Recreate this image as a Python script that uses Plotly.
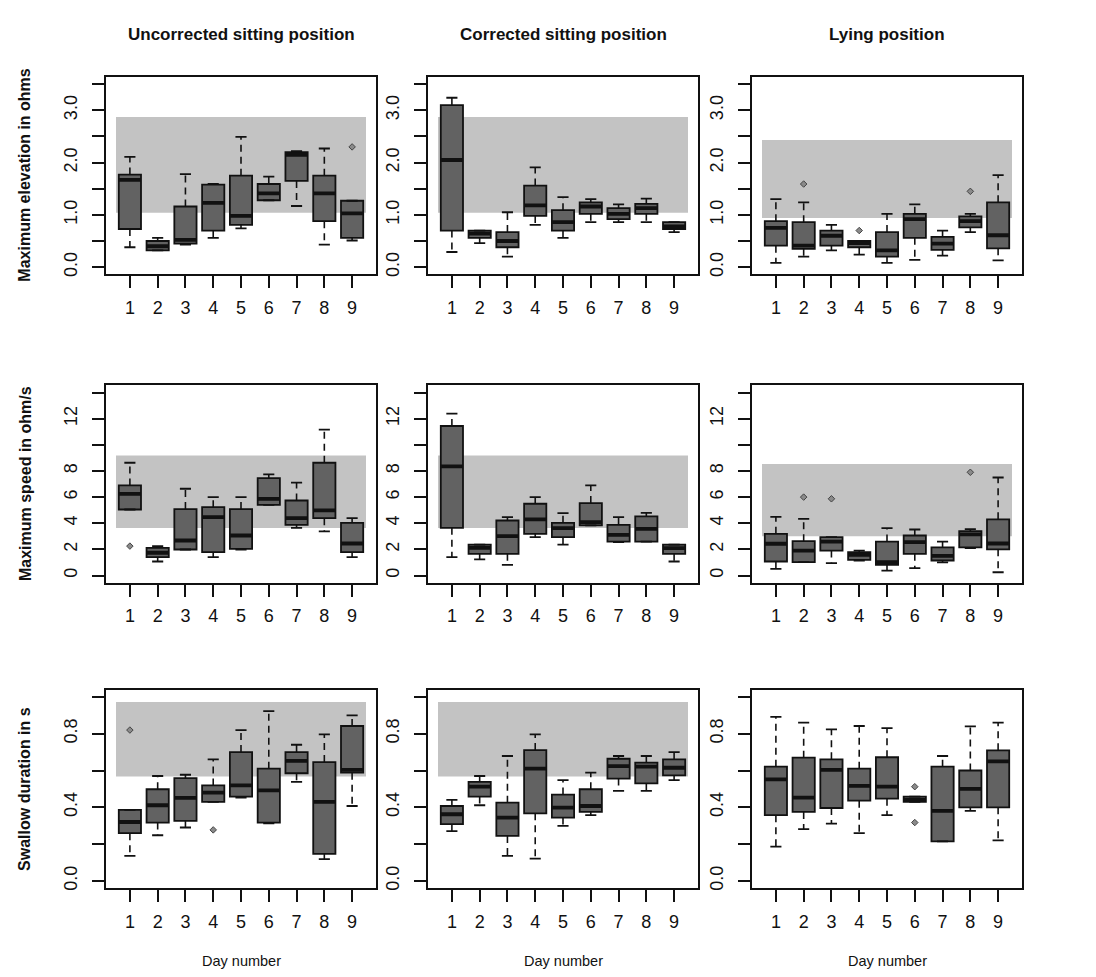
import plotly.graph_objects as go

W, H = 1096, 977
days = [1, 2, 3, 4, 5, 6, 7, 8, 9]
day_labels = ["1", "2", "3", "4", "5", "6", "7", "8", "9"]

col_titles = ["Uncorrected sitting position", "Corrected sitting position", "Lying position"]
row_titles = ["Maximum elevation in ohms", "Maximum speed in ohm/s", "Swallow duration in s"]
x_title = "Day number"

# ---- Row 1: maximum elevation (ohms) ----
elev_unc_q1 = [0.73, 0.32, 0.45, 0.70, 0.81, 1.28, 1.65, 0.88, 0.56]
elev_unc_med = [1.67, 0.40, 0.52, 1.23, 0.98, 1.41, 2.15, 1.41, 1.03]
elev_unc_q3 = [1.77, 0.50, 1.16, 1.58, 1.75, 1.59, 2.20, 1.75, 1.27]
elev_unc_lo = [0.38, 0.32, 0.43, 0.56, 0.74, 1.28, 1.17, 0.43, 0.51]
elev_unc_hi = [2.11, 0.56, 1.78, 1.59, 2.49, 1.73, 2.22, 2.27, 1.27]
elev_unc_out_x = [9]
elev_unc_out_y = [2.30]
elev_unc_band = [1.04, 2.87]

elev_cor_q1 = [0.70, 0.56, 0.38, 0.98, 0.70, 1.02, 0.92, 1.02, 0.73]
elev_cor_med = [2.05, 0.64, 0.50, 1.18, 0.86, 1.16, 1.02, 1.13, 0.78]
elev_cor_q3 = [3.10, 0.70, 0.67, 1.56, 1.09, 1.24, 1.13, 1.21, 0.86]
elev_cor_lo = [0.29, 0.46, 0.20, 0.81, 0.56, 0.86, 0.86, 0.86, 0.67]
elev_cor_hi = [3.24, 0.70, 1.05, 1.91, 1.34, 1.30, 1.20, 1.31, 0.86]
elev_cor_out_x = []
elev_cor_out_y = []
elev_cor_band = [1.04, 2.87]

elev_lie_q1 = [0.41, 0.35, 0.41, 0.38, 0.20, 0.56, 0.33, 0.76, 0.36]
elev_lie_med = [0.75, 0.41, 0.60, 0.46, 0.32, 0.92, 0.45, 0.88, 0.61]
elev_lie_q3 = [0.88, 0.86, 0.70, 0.50, 0.67, 1.02, 0.58, 0.97, 1.24]
elev_lie_lo = [0.08, 0.20, 0.32, 0.24, 0.08, 0.14, 0.22, 0.67, 0.13]
elev_lie_hi = [1.30, 1.24, 0.81, 0.50, 1.02, 1.20, 0.70, 1.02, 1.76]
elev_lie_out_x = [2, 4, 8]
elev_lie_out_y = [1.59, 0.70, 1.45]
elev_lie_band = [0.94, 2.43]

# ---- Row 2: maximum speed (ohm/s) ----
speed_unc_q1 = [5.05, 1.40, 1.99, 1.79, 2.04, 5.41, 3.88, 4.39, 1.79]
speed_unc_med = [6.25, 1.74, 2.68, 4.47, 3.06, 5.87, 4.39, 4.98, 2.45]
speed_unc_q3 = [6.89, 2.12, 5.08, 5.23, 5.08, 7.45, 5.74, 8.63, 4.03]
speed_unc_lo = [5.05, 1.07, 1.99, 1.40, 1.99, 5.41, 3.65, 3.37, 1.40]
speed_unc_hi = [8.63, 2.25, 6.64, 6.00, 6.00, 7.74, 7.10, 11.16, 4.39]
speed_unc_out_x = [1]
speed_unc_out_y = [2.25]
speed_unc_band = [3.63, 9.19]

speed_cor_q1 = [3.65, 1.66, 1.66, 3.19, 2.94, 3.83, 2.60, 2.60, 1.66]
speed_cor_med = [8.35, 2.12, 3.01, 4.29, 3.63, 4.08, 3.11, 3.57, 2.09]
speed_cor_q3 = [11.44, 2.37, 4.21, 5.49, 4.03, 5.54, 3.88, 4.52, 2.37]
speed_cor_lo = [1.40, 1.23, 0.82, 2.94, 2.37, 3.83, 2.55, 2.60, 1.07]
speed_cor_hi = [12.38, 2.37, 4.47, 6.00, 4.77, 6.89, 4.47, 4.80, 2.37]
speed_cor_out_x = []
speed_cor_out_y = []
speed_cor_band = [3.63, 9.19]

speed_lie_q1 = [1.07, 1.02, 1.91, 1.20, 0.82, 1.66, 1.15, 2.15, 2.00]
speed_lie_med = [2.43, 1.91, 2.60, 1.58, 1.02, 2.55, 1.50, 3.15, 2.45]
speed_lie_q3 = [3.19, 2.63, 2.94, 1.79, 2.60, 3.06, 2.15, 3.40, 4.30]
speed_lie_lo = [0.51, 1.02, 0.94, 1.15, 0.38, 0.56, 1.00, 2.10, 0.25]
speed_lie_hi = [4.49, 4.34, 2.94, 1.91, 3.63, 3.52, 2.60, 3.55, 7.50]
speed_lie_out_x = [2, 3, 8]
speed_lie_out_y = [6.00, 5.87, 7.90]
speed_lie_band = [3.01, 8.53]

# ---- Row 3: swallow duration (s) ----
dur_unc_q1 = [0.259, 0.317, 0.326, 0.429, 0.458, 0.317, 0.585, 0.147, 0.588]
dur_unc_med = [0.320, 0.411, 0.451, 0.480, 0.519, 0.492, 0.652, 0.429, 0.603]
dur_unc_q3 = [0.386, 0.498, 0.559, 0.519, 0.700, 0.610, 0.700, 0.646, 0.842]
dur_unc_lo = [0.136, 0.248, 0.290, 0.429, 0.452, 0.313, 0.538, 0.118, 0.407]
dur_unc_hi = [0.386, 0.570, 0.577, 0.661, 0.820, 0.923, 0.740, 0.796, 0.900]
dur_unc_out_x = [1, 4]
dur_unc_out_y = [0.820, 0.277]
dur_unc_band = [0.567, 0.972]

dur_cor_q1 = [0.308, 0.458, 0.244, 0.367, 0.344, 0.375, 0.556, 0.530, 0.574]
dur_cor_med = [0.362, 0.512, 0.344, 0.610, 0.398, 0.407, 0.624, 0.621, 0.615]
dur_cor_q3 = [0.407, 0.538, 0.425, 0.711, 0.469, 0.498, 0.664, 0.643, 0.661]
dur_cor_lo = [0.270, 0.411, 0.136, 0.121, 0.299, 0.357, 0.489, 0.489, 0.548]
dur_cor_hi = [0.440, 0.570, 0.679, 0.796, 0.548, 0.588, 0.679, 0.679, 0.700]
dur_cor_out_x = []
dur_cor_out_y = []
dur_cor_band = [0.567, 0.972]

dur_lie_q1 = [0.357, 0.375, 0.396, 0.436, 0.447, 0.429, 0.215, 0.400, 0.400]
dur_lie_med = [0.552, 0.452, 0.603, 0.516, 0.512, 0.440, 0.380, 0.500, 0.650]
dur_lie_q3 = [0.621, 0.670, 0.661, 0.610, 0.672, 0.458, 0.621, 0.600, 0.710]
dur_lie_lo = [0.186, 0.281, 0.311, 0.259, 0.357, 0.429, 0.215, 0.380, 0.220]
dur_lie_hi = [0.892, 0.860, 0.824, 0.842, 0.831, 0.458, 0.679, 0.840, 0.860]
dur_lie_out_x = [6, 6]
dur_lie_out_y = [0.512, 0.317]
dur_lie_band = None

panels = [
    [(elev_unc_q1, elev_unc_med, elev_unc_q3, elev_unc_lo, elev_unc_hi, elev_unc_out_x, elev_unc_out_y, elev_unc_band),
     (elev_cor_q1, elev_cor_med, elev_cor_q3, elev_cor_lo, elev_cor_hi, elev_cor_out_x, elev_cor_out_y, elev_cor_band),
     (elev_lie_q1, elev_lie_med, elev_lie_q3, elev_lie_lo, elev_lie_hi, elev_lie_out_x, elev_lie_out_y, elev_lie_band)],
    [(speed_unc_q1, speed_unc_med, speed_unc_q3, speed_unc_lo, speed_unc_hi, speed_unc_out_x, speed_unc_out_y, speed_unc_band),
     (speed_cor_q1, speed_cor_med, speed_cor_q3, speed_cor_lo, speed_cor_hi, speed_cor_out_x, speed_cor_out_y, speed_cor_band),
     (speed_lie_q1, speed_lie_med, speed_lie_q3, speed_lie_lo, speed_lie_hi, speed_lie_out_x, speed_lie_out_y, speed_lie_band)],
    [(dur_unc_q1, dur_unc_med, dur_unc_q3, dur_unc_lo, dur_unc_hi, dur_unc_out_x, dur_unc_out_y, dur_unc_band),
     (dur_cor_q1, dur_cor_med, dur_cor_q3, dur_cor_lo, dur_cor_hi, dur_cor_out_x, dur_cor_out_y, dur_cor_band),
     (dur_lie_q1, dur_lie_med, dur_lie_q3, dur_lie_lo, dur_lie_hi, dur_lie_out_x, dur_lie_out_y, dur_lie_band)],
]

y_ticks = [
    ([0, 0.5, 1.0, 1.5, 2.0, 2.5, 3.0, 3.5], ["0.0", "", "1.0", "", "2.0", "", "3.0", ""], [-0.14, 3.64]),
    ([0, 2, 4, 6, 8, 10, 12, 14], ["0", "2", "4", "6", "8", "", "12", ""], [-0.56, 14.56]),
    ([0, 0.2, 0.4, 0.6, 0.8, 1.0], ["0.0", "", "0.4", "", "0.8", ""], [-0.04, 1.04]),
]

# layout geometry (pixels)
col_left = [98, 420, 744]
frame_w = 270
row_top = [69, 378, 683]
row_bot = [267, 576, 882]
x_range = [0.14, 9.86]

FONT = "Arial, Liberation Sans, Helvetica, sans-serif"
BOX_FILL = "#626262"
BAND = "#c3c3c3"
INK = "#111111"

fig = go.Figure()
shapes = []
layout_axes = {}

for r in range(3):
    for c in range(3):
        n = r * 3 + c + 1
        xa = "x" if n == 1 else f"x{n}"
        ya = "y" if n == 1 else f"y{n}"
        q1, med, q3, lo, hi, ox, oy, band = panels[r][c]

        if band is not None:
            shapes.append(dict(type="rect", xref=xa, yref=ya, x0=0.5, x1=9.5,
                               y0=band[0], y1=band[1], fillcolor=BAND,
                               line=dict(width=0), layer="below"))

        wx, wy = [], []
        cx, cy = [], []
        mx, my = [], []
        for i, d in enumerate(days):
            if hi[i] > q3[i]:
                wx += [d, d, None]
                wy += [q3[i], hi[i], None]
            if lo[i] < q1[i]:
                wx += [d, d, None]
                wy += [q1[i], lo[i], None]
            cx += [d - 0.2, d + 0.2, None, d - 0.2, d + 0.2, None]
            cy += [hi[i], hi[i], None, lo[i], lo[i], None]
            mx += [d - 0.4, d + 0.4, None]
            my += [med[i], med[i], None]

        fig.add_trace(go.Scatter(x=wx, y=wy, mode="lines", xaxis=xa, yaxis=ya,
                                 line=dict(color=INK, width=1.6, dash="7px,5px"),
                                 showlegend=False, hoverinfo="skip"))
        fig.add_trace(go.Scatter(x=cx, y=cy, mode="lines", xaxis=xa, yaxis=ya,
                                 line=dict(color=INK, width=1.8),
                                 showlegend=False, hoverinfo="skip"))
        fig.add_trace(go.Box(x=days, q1=q1, median=med, q3=q3,
                             lowerfence=q1, upperfence=q3,
                             xaxis=xa, yaxis=ya, width=0.8, whiskerwidth=0,
                             fillcolor=BOX_FILL, line=dict(color=INK, width=1.8),
                             boxpoints=False, showlegend=False, hoverinfo="skip"))
        fig.add_trace(go.Scatter(x=mx, y=my, mode="lines", xaxis=xa, yaxis=ya,
                                 line=dict(color=INK, width=3.8),
                                 showlegend=False, hoverinfo="skip"))
        if ox:
            fig.add_trace(go.Scatter(x=ox, y=oy, mode="markers", xaxis=xa, yaxis=ya,
                                     marker=dict(symbol="diamond", size=5, color="#8a8a8a",
                                                 line=dict(color="#444444", width=1)),
                                     showlegend=False, hoverinfo="skip"))

        x0p = col_left[c]
        x1p = col_left[c] + frame_w
        tv, tt, yr = y_ticks[r]
        axis_common = dict(showline=True, mirror=True, linecolor=INK, linewidth=1.6,
                           ticks="outside", ticklen=12, tickwidth=1.6, tickcolor=INK,
                           showgrid=False, zeroline=False, fixedrange=True,
                           tickfont=dict(family=FONT, size=18, color=INK))
        layout_axes["xaxis" if n == 1 else f"xaxis{n}"] = dict(
            axis_common, domain=[x0p / W, x1p / W], range=x_range,
            anchor=ya, tickvals=days, ticktext=day_labels, ticklabelstandoff=4)
        layout_axes["yaxis" if n == 1 else f"yaxis{n}"] = dict(
            axis_common, domain=[1 - row_bot[r] / H, 1 - row_top[r] / H], range=yr,
            anchor=xa, tickvals=tv, ticktext=tt, tickangle=-90, ticklabelstandoff=8)

annotations = []
for c in range(3):
    cxp = col_left[c] + frame_w / 2
    annotations.append(dict(text=f"<b>{col_titles[c]}</b>", xref="paper", yref="paper",
                            x=cxp / W, y=1 - 27 / H, showarrow=False,
                            xanchor="center", yanchor="middle",
                            font=dict(family=FONT, size=17, color=INK)))
    annotations.append(dict(text=x_title, xref="paper", yref="paper",
                            x=cxp / W, y=1 - 955 / H, showarrow=False,
                            xanchor="center", yanchor="middle",
                            font=dict(family=FONT, size=14.5, color=INK)))
for r in range(3):
    cyp = (row_top[r] + row_bot[r]) / 2
    annotations.append(dict(text=f"<b>{row_titles[r]}</b>", xref="paper", yref="paper",
                            x=17 / W, y=1 - cyp / H, showarrow=False, textangle=-90,
                            xanchor="center", yanchor="middle",
                            font=dict(family=FONT, size=16, color=INK)))

fig.update_layout(width=W, height=H, margin=dict(l=0, r=0, t=0, b=0),
                  paper_bgcolor="white", plot_bgcolor="white",
                  shapes=shapes, annotations=annotations, showlegend=False,
                  **layout_axes)

fig.write_html("out.html")
